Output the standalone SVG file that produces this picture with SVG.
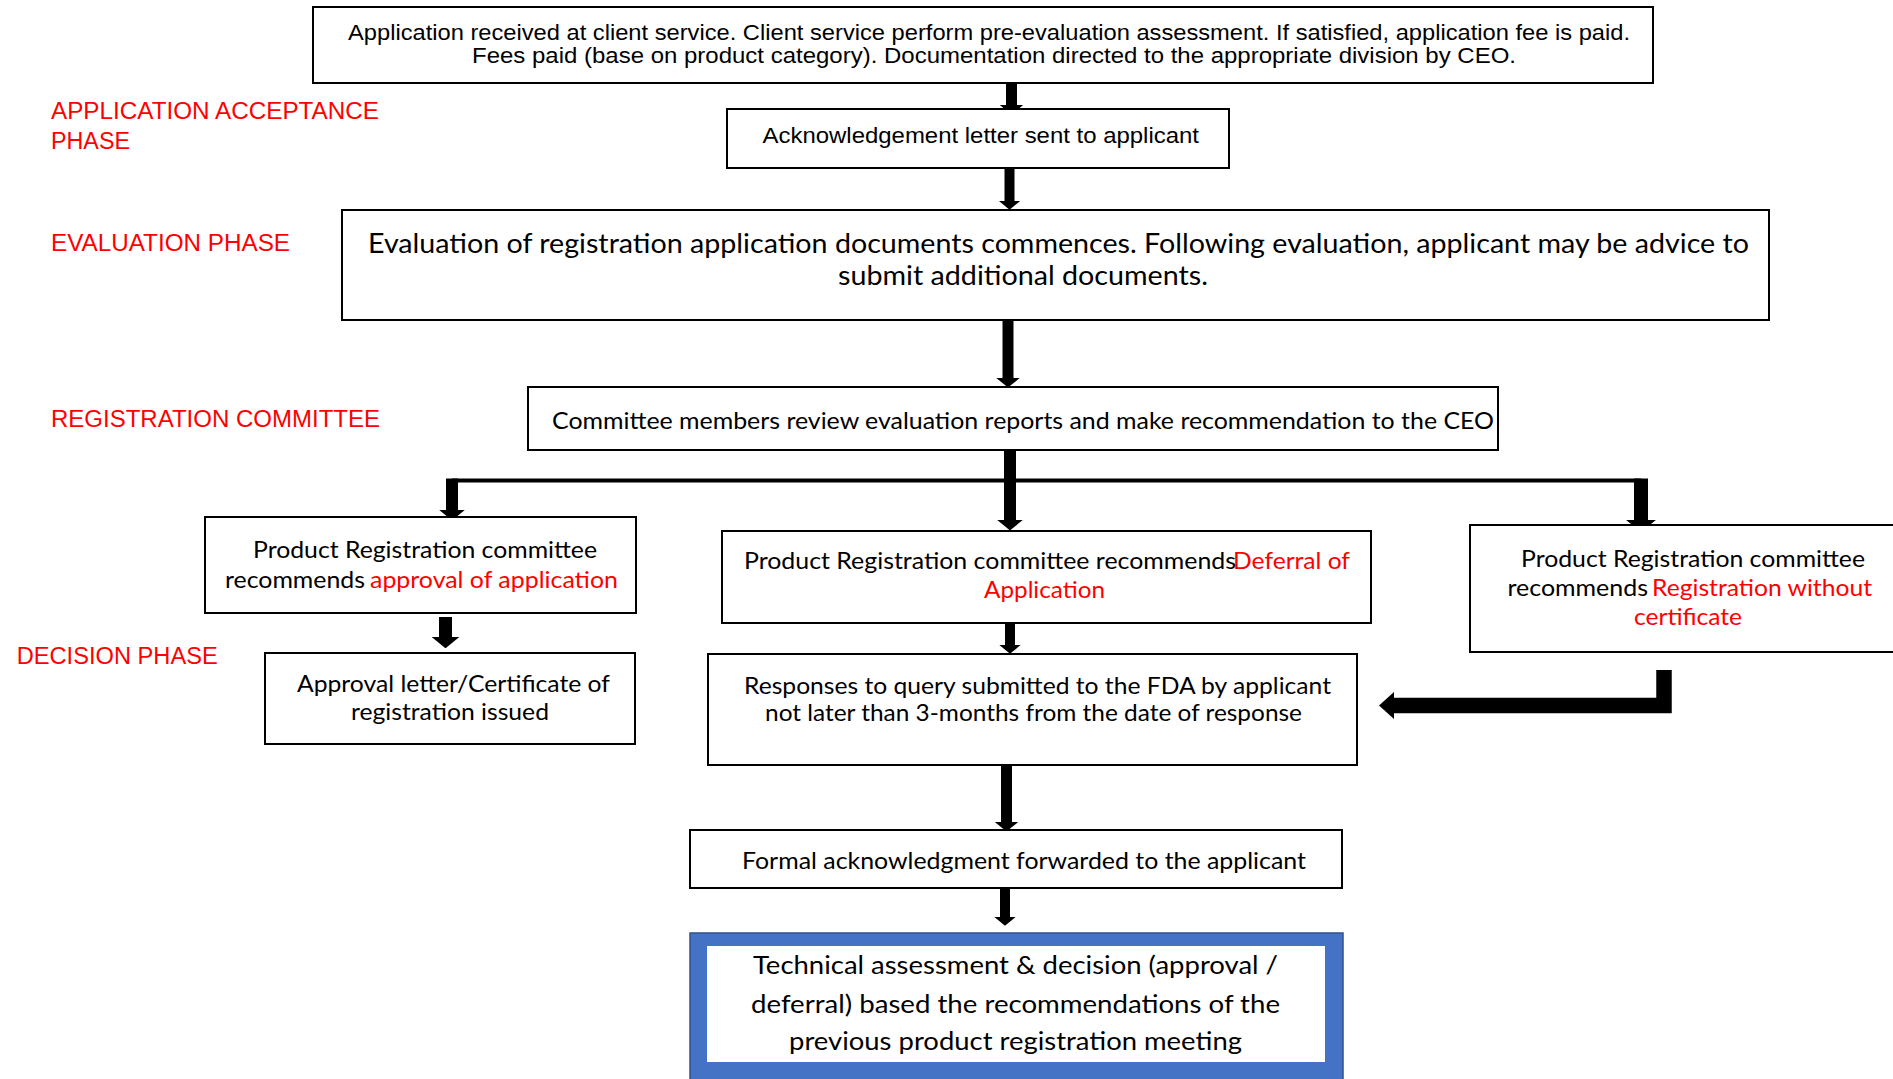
<svg xmlns="http://www.w3.org/2000/svg" width="1893" height="1079" viewBox="0 0 1893 1079">
<style>
.box{fill:#fff;stroke:#000;stroke-width:2}
.ar{font-family:"Liberation Sans",Arial,sans-serif;font-size:22px;fill:#000}
.lab{font-family:"Liberation Sans",Arial,sans-serif;font-size:23.5px;fill:#ff0000}
.ca{font-family:Lato,"Open Sans",sans-serif;font-size:23px;fill:#000}
.big{font-size:26px}
.red{fill:#ff0000}
.st{fill:none;stroke:#000;stroke-linecap:butt}
</style>
<defs>
<marker id="ah" viewBox="0 0 9 22" refX="0.3" refY="11" markerWidth="0.9" markerHeight="2.2" orient="auto" markerUnits="strokeWidth">
<path d="M0,0 L9,11 L0,22 Z" fill="#000"/>
</marker>
<marker id="ahL" viewBox="0 0 10 18" refX="0.3" refY="9" markerWidth="1" markerHeight="1.8" orient="auto" markerUnits="strokeWidth">
<path d="M0,0 L10,9 L0,18 Z" fill="#000"/>
</marker>
</defs>
<rect width="1893" height="1079" fill="#fff"/>

<g id="labels">
<text class="lab" x="51" y="119" textLength="328" lengthAdjust="spacingAndGlyphs">APPLICATION ACCEPTANCE</text>
<text class="lab" x="51" y="149" textLength="79" lengthAdjust="spacingAndGlyphs">PHASE</text>
<text class="lab" x="51" y="251" textLength="239" lengthAdjust="spacingAndGlyphs">EVALUATION PHASE</text>
<text class="lab" x="51" y="427" textLength="329" lengthAdjust="spacingAndGlyphs">REGISTRATION COMMITTEE</text>
<text class="lab" x="16.7" y="664" textLength="201" lengthAdjust="spacingAndGlyphs">DECISION PHASE</text>
</g>

<g id="connectors">
<path class="st" d="M1011.5,83 V105" stroke-width="11" marker-end="url(#ah)"/>
<path class="st" d="M1009.5,168 V201" stroke-width="10" marker-end="url(#ah)"/>
<path class="st" d="M1008,320 V378" stroke-width="11" marker-end="url(#ah)"/>
<path class="st" d="M1010,450 V520" stroke-width="12" marker-end="url(#ah)"/>
<path class="st" d="M452,480.5 H1641" stroke-width="4"/>
<path class="st" d="M452,478.5 V510" stroke-width="12" marker-end="url(#ah)"/>
<path class="st" d="M1641,478.5 V520" stroke-width="14" marker-end="url(#ah)"/>
<path class="st" d="M1010,623 V645" stroke-width="10" marker-end="url(#ah)"/>
<path class="st" d="M445.5,617 V637" stroke-width="13" marker-end="url(#ah)"/>
<path class="st" d="M1006.5,765 V822" stroke-width="11" marker-end="url(#ah)"/>
<path class="st" d="M1005,888 V917" stroke-width="10" marker-end="url(#ah)"/>
<path class="st" d="M1664,670 V705.5 H1394" stroke-width="15.5" stroke-linejoin="miter" marker-end="url(#ahL)"/>
</g>

<g id="n-application">
<rect class="box" x="313" y="7" width="1340" height="76"/>
<text class="ar" x="348" y="40" textLength="1282" lengthAdjust="spacingAndGlyphs">Application received at client service. Client service perform pre-evaluation assessment. If satisfied, application fee is paid.</text>
<text class="ar" x="472" y="63" textLength="1044" lengthAdjust="spacingAndGlyphs">Fees paid (base on product category). Documentation directed to the appropriate division by CEO.</text>
</g>

<g id="n-ack">
<rect class="box" x="727" y="109" width="502" height="59"/>
<text class="ar" x="762.5" y="143" textLength="436.5" lengthAdjust="spacingAndGlyphs">Acknowledgement letter sent to applicant</text>
</g>

<g id="n-evaluation">
<rect class="box" x="342" y="210" width="1427" height="110"/>
<text class="ca big" x="368" y="252.5" textLength="1381" lengthAdjust="spacingAndGlyphs">Evaluation of registration application documents commences. Following evaluation, applicant may be advice to</text>
<text class="ca big" x="838" y="284.5" textLength="370" lengthAdjust="spacingAndGlyphs">submit additional documents.</text>
</g>

<g id="n-committee">
<rect class="box" x="528" y="387" width="970" height="63"/>
<text class="ca" x="552" y="429" textLength="942" lengthAdjust="spacingAndGlyphs">Committee members review evaluation reports and make recommendation to the CEO</text>
</g>

<g id="n-approval-rec">
<rect class="box" x="205" y="517" width="431" height="96"/>
<text class="ca" x="253" y="558" textLength="344" lengthAdjust="spacingAndGlyphs">Product Registration committee</text>
<text class="ca" x="225" y="588" textLength="140" lengthAdjust="spacingAndGlyphs">recommends</text>
<text class="ca red" x="370" y="588" textLength="248" lengthAdjust="spacingAndGlyphs">approval of application</text>
</g>

<g id="n-deferral-rec">
<rect class="box" x="722" y="531" width="649" height="92"/>
<text class="ca" x="744" y="569" textLength="492" lengthAdjust="spacingAndGlyphs">Product Registration committee recommends</text>
<text class="ca red" x="1233" y="569" textLength="117" lengthAdjust="spacingAndGlyphs">Deferral of</text>
<text class="ca red" x="984" y="598" textLength="121" lengthAdjust="spacingAndGlyphs">Application</text>
</g>

<g id="n-nocert-rec">
<rect class="box" x="1470" y="525" width="440" height="127"/>
<text class="ca" x="1521" y="566.5" textLength="344" lengthAdjust="spacingAndGlyphs">Product Registration committee</text>
<text class="ca" x="1507.5" y="595.5" textLength="140.5" lengthAdjust="spacingAndGlyphs">recommends</text>
<text class="ca red" x="1652" y="595.5" textLength="220" lengthAdjust="spacingAndGlyphs">Registration without</text>
<text class="ca red" x="1634" y="625" textLength="108" lengthAdjust="spacingAndGlyphs">certificate</text>
</g>

<g id="n-approval-letter">
<rect class="box" x="265" y="653" width="370" height="91"/>
<text class="ca" x="297" y="692" textLength="313" lengthAdjust="spacingAndGlyphs">Approval letter/Certificate of</text>
<text class="ca" x="351" y="719.5" textLength="198" lengthAdjust="spacingAndGlyphs">registration issued</text>
</g>

<g id="n-responses">
<rect class="box" x="708" y="654" width="649" height="111"/>
<text class="ca" x="744" y="694" textLength="587" lengthAdjust="spacingAndGlyphs">Responses to query submitted to the FDA by applicant</text>
<text class="ca" x="765" y="721" textLength="537" lengthAdjust="spacingAndGlyphs">not later than 3-months from the date of response</text>
</g>

<g id="n-formal">
<rect class="box" x="690" y="830" width="652" height="58"/>
<text class="ca" x="742" y="869" textLength="564" lengthAdjust="spacingAndGlyphs">Formal acknowledgment forwarded to the applicant</text>
</g>

<g id="n-technical">
<rect x="690" y="933" width="653" height="160" fill="#4472c4" stroke="#2f528f" stroke-width="1.5"/>
<rect x="707" y="946" width="618" height="116" fill="#fff"/>
<text class="ca" x="753" y="974" textLength="525" lengthAdjust="spacingAndGlyphs" style="font-size:25px">Technical assessment &amp; decision (approval /</text>
<text class="ca" x="751" y="1013" textLength="529" lengthAdjust="spacingAndGlyphs" style="font-size:25px">deferral) based the recommendations of the</text>
<text class="ca" x="789" y="1050" textLength="453" lengthAdjust="spacingAndGlyphs" style="font-size:25px">previous product registration meeting</text>
</g>
</svg>
